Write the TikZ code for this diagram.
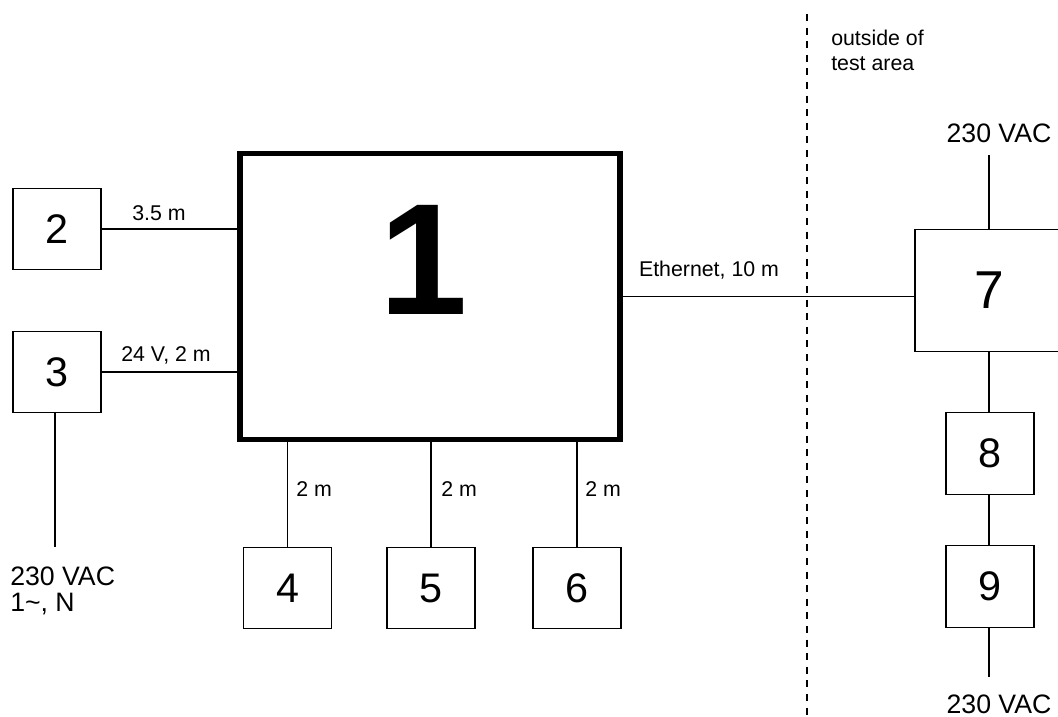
\documentclass[tikz,border=0pt]{standalone}
\usepackage{fontspec}
\setmainfont{Liberation Sans}
\begin{document}
\begin{tikzpicture}[x=0.75pt,y=-0.75pt,
  unit/.style={draw,line width=0.8pt,inner sep=0pt,outer sep=0pt,
    minimum width=66pt,minimum height=61pt,font=\fontsize{31}{31}\selectfont},
  wire/.style={line width=0.8pt},
  lbl/.style={inner sep=0pt,font=\fontsize{16}{16}\selectfont},
  supply/.style={inner sep=0pt,font=\fontsize{20}{20}\selectfont}]
\useasboundingbox (0,0) rectangle (1058,717);
\clip (0,0) rectangle (1058,717);

% main unit
\node[draw,line width=3.8pt,inner sep=0pt,outer sep=0pt,
  minimum width=285pt,minimum height=215pt] (b1) at (430,296.5) {};
\node[font=\bfseries\fontsize{119}{119}\selectfont,inner sep=0pt] (n1) at (424,260) {1};

% peripheral units
\node[unit] (b2) at (57,229) {2};
\node[unit] (b3) at (57,372) {3};
\node[unit] (b4) at (287.5,588) {4};
\node[unit] (b5) at (431,588) {5};
\node[unit] (b6) at (577,588) {6};
\node[unit,minimum width=111pt,minimum height=91pt,font=\fontsize{40}{40}\selectfont] (b7) at (989,290.5) {7};
\node[unit] (b8) at (990,453.5) {8};
\node[unit] (b9) at (990,586.5) {9};

% connections to the main unit
\draw[wire] (b2.east) -- (b2.east -| b1.west);
\draw[wire] (b3.east) -- (b3.east -| b1.west);
\draw[wire] (b4.north |- b1.south) -- (b4.north);
\draw[wire] (b5.north |- b1.south) -- (b5.north);
\draw[wire] (b6.north |- b1.south) -- (b6.north);
\draw[wire] (b1.east) -- (b1.east -| b7.west);

% cable labels
\node[lbl] (l2) at (159,213) {3.5 m};
\node[lbl] (l3) at (166,355) {24 V, 2 m};
\node[lbl,anchor=west] (l4) at (296,489) {2 m};
\node[lbl,anchor=west] (l5) at (441,489) {2 m};
\node[lbl,anchor=west] (l6) at (585,489) {2 m};
\node[lbl] (le) at (709,270) {Ethernet, 10 m};

% supply of unit 3
\coordinate (s3) at (55,547);
\draw[wire] (b3.south -| s3) -- (s3);
\node[supply,anchor=west,align=left] (p3) at (10,591) {230 VAC\\[0pt]1\textasciitilde, N};

% supply chain of units 7, 8, 9
\coordinate (s7) at (989,155);
\coordinate (s9) at (989,677);
\draw[wire] (s7) -- (s7 |- b7.north);
\draw[wire] (s7 |- b7.south) -- (s7 |- b8.north);
\draw[wire] (s7 |- b8.south) -- (s7 |- b9.north);
\draw[wire] (s7 |- b9.south) -- (s9);
\node[supply] (p7) at (999,133) {230 VAC};
\node[supply] (p9) at (999,704) {230 VAC};

% boundary of the test area
\coordinate (d1) at (807,14);
\coordinate (d2) at (807,717);
\draw[line width=1.3pt,dash pattern=on 5.2pt off 5pt] (d1) -- (d2);
\node[lbl,anchor=west,align=left,font=\fontsize{16}{18.75}\selectfont] (out) at (831,50) {outside of\\test area};
\end{tikzpicture}
\end{document}
